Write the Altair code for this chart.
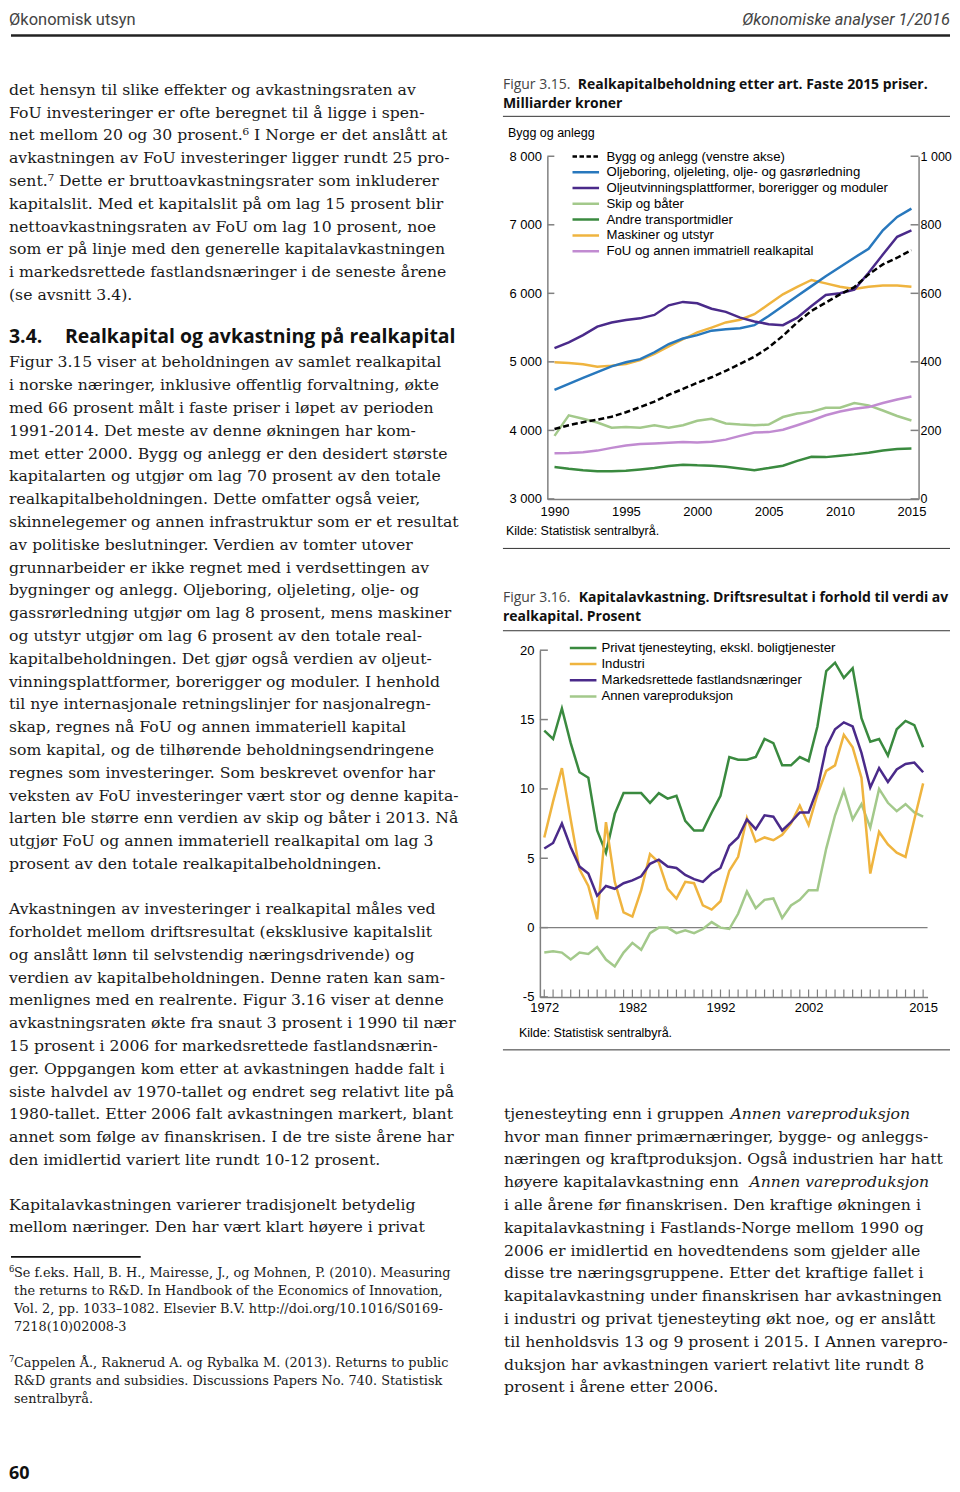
import altair as alt
import pandas as pd

# ---------------- Figure 3.15 data (Milliarder kroner, faste 2015-priser) ----------------
years15 = list(range(1990, 2016))
series15 = [
    "Bygg og anlegg (venstre akse)",
    "Oljeboring, oljeleting, olje- og gasrørledning",
    "Oljeutvinningsplattformer, borerigger og moduler",
    "Skip og båter",
    "Andre transportmidler",
    "Maskiner og utstyr",
    "FoU og annen immatriell realkapital",
]
colors15 = ["#000000", "#2878bd", "#4a2a8a", "#a3c98b", "#3a8a3f", "#efb43f", "#c18bd1"]
bygg = [4020, 4075, 4120, 4155, 4200, 4265, 4340, 4420, 4520, 4605, 4695, 4775, 4870,
        4970, 5075, 5210, 5380, 5575, 5745, 5865, 5985, 6090, 6276, 6422, 6519, 6631]
oljeboring = [318, 336, 353, 370, 387, 399, 408, 428, 452, 468, 478, 491, 495,
              498, 507, 534, 563, 592, 621, 650, 677, 704, 730, 784, 823, 847]
plattform = [440, 457, 478, 503, 515, 522, 527, 537, 565, 575, 571, 555, 546,
             529, 518, 510, 507, 529, 563, 595, 600, 611, 660, 713, 765, 784]
skip = [184, 244, 234, 223, 208, 210, 208, 215, 208, 215, 228, 234, 220,
        217, 215, 217, 239, 249, 254, 266, 266, 280, 273, 258, 242, 229]
andre = [93, 88, 84, 81, 81, 82, 86, 90, 96, 100, 98, 97, 94,
         89, 84, 90, 97, 111, 123, 122, 126, 130, 135, 141, 146, 147]
maskiner = [399, 397, 393, 386, 389, 394, 405, 423, 445, 466, 486, 500, 515,
            523, 539, 568, 597, 619, 639, 629, 619, 613, 619, 623, 623, 619]
fou = [133, 134, 136, 141, 149, 156, 160, 162, 164, 166, 165, 167, 173,
       184, 194, 195, 202, 215, 229, 244, 255, 263, 268, 280, 290, 299]
left_ticks15 = [3000, 4000, 5000, 6000, 7000, 8000]
right_ticks15 = [0, 200, 400, 600, 800, 1000]
xlabels15 = [1990, 1995, 2000, 2005, 2010, 2015]

# ---------------- Figure 3.16 data (Prosent) ----------------
years16 = list(range(1972, 2016))
series16 = [
    "Privat tjenesteyting, ekskl. boligtjenester",
    "Industri",
    "Markedsrettede fastlandsnæringer",
    "Annen vareproduksjon",
]
colors16 = ["#3a8a3f", "#efb43f", "#4a2a8a", "#a3c98b"]
privat = [14.2, 13.6, 15.8, 13.3, 11.2, 10.8, 7.0, 5.4, 8.2, 9.7,
          9.7, 9.7, 9.0, 9.7, 9.3, 9.5, 7.7, 7.0, 7.0, 8.3,
          9.5, 12.3, 12.1, 12.1, 12.3, 13.6, 13.3, 11.7, 11.7, 12.3,
          12.0, 14.5, 18.5, 19.1, 18.0, 18.7, 15.1, 13.4, 13.6, 12.4,
          14.3, 14.9, 14.6, 13.0]
industri = [6.5, 9.1, 11.5, 7.8, 4.2, 3.0, 0.6, 7.6, 3.3, 1.1,
            0.8, 2.7, 5.3, 4.7, 2.8, 2.1, 3.3, 3.2, 1.6, 1.3,
            1.9, 4.1, 5.1, 7.9, 6.2, 6.5, 6.3, 6.7, 7.5, 8.8,
            7.4, 9.6, 11.3, 11.7, 13.9, 13.0, 10.8, 3.9, 6.9, 6.0,
            5.4, 5.1, 7.8, 10.4]
markeds = [5.7, 6.1, 7.5, 5.8, 4.4, 3.9, 2.3, 3.0, 2.8, 3.2,
           3.4, 3.7, 4.6, 4.9, 4.4, 4.3, 3.8, 3.5, 3.3, 3.9,
           4.3, 5.9, 6.5, 7.8, 7.1, 8.1, 8.0, 7.0, 7.6, 8.3,
           8.3, 10.0, 13.0, 14.3, 14.8, 14.5, 12.6, 10.1, 11.5, 10.5,
           11.4, 11.8, 11.9, 11.2]
annen = [-1.8, -1.7, -1.8, -2.3, -1.8, -1.9, -1.4, -2.3, -2.8, -1.8,
         -1.1, -1.6, -0.4, 0.0, 0.0, -0.4, -0.2, -0.4, -0.1, 0.4,
         0.0, -0.1, 1.0, 2.6, 1.4, 2.0, 2.1, 0.7, 1.6, 2.0,
         2.7, 2.7, 5.7, 8.1, 9.9, 7.8, 8.9, 7.2, 10.0, 9.0,
         8.4, 8.9, 8.3, 8.0]
yticks16 = [-5, 0, 5, 10, 15, 20]
xlabels16 = [1972, 1982, 1992, 2002, 2015]

# ---------------- page text ----------------
header_left = "Økonomisk utsyn"
header_right = "Økonomiske analyser 1/2016"
para1 = [
    "det hensyn til slike effekter og avkastningsraten av",
    "FoU investeringer er ofte beregnet til å ligge i spen-",
    "net mellom 20 og 30 prosent.⁶ I Norge er det anslått at",
    "avkastningen av FoU investeringer ligger rundt 25 pro-",
    "sent.⁷ Dette er bruttoavkastningsrater som inkluderer",
    "kapitalslit. Med et kapitalslit på om lag 15 prosent blir",
    "nettoavkastningsraten av FoU om lag 10 prosent, noe",
    "som er på linje med den generelle kapitalavkastningen",
    "i markedsrettede fastlandsnæringer i de seneste årene",
    "(se avsnitt 3.4).",
]
heading_num = "3.4."
heading_txt = "Realkapital og avkastning på realkapital"
para2 = [
    "Figur 3.15 viser at beholdningen av samlet realkapital",
    "i norske næringer, inklusive offentlig forvaltning, økte",
    "med 66 prosent målt i faste priser i løpet av perioden",
    "1991-2014. Det meste av denne økningen har kom-",
    "met etter 2000. Bygg og anlegg er den desidert største",
    "kapitalarten og utgjør om lag 70 prosent av den totale",
    "realkapitalbeholdningen. Dette omfatter også veier,",
    "skinnelegemer og annen infrastruktur som er et resultat",
    "av politiske beslutninger. Verdien av tomter utover",
    "grunnarbeider er ikke regnet med i verdsettingen av",
    "bygninger og anlegg. Oljeboring, oljeleting, olje- og",
    "gassrørledning utgjør om lag 8 prosent, mens maskiner",
    "og utstyr utgjør om lag 6 prosent av den totale real-",
    "kapitalbeholdningen. Det gjør også verdien av oljeut-",
    "vinningsplattformer, borerigger og moduler.  I henhold",
    "til nye internasjonale retningslinjer for nasjonalregn-",
    "skap, regnes nå FoU og annen immateriell kapital",
    "som kapital, og de tilhørende beholdningsendringene",
    "regnes som investeringer. Som beskrevet ovenfor har",
    "veksten av FoU investeringer vært stor og denne kapita-",
    "larten ble større enn verdien av skip og båter i 2013. Nå",
    "utgjør FoU og annen immateriell realkapital om lag 3",
    "prosent av den totale realkapitalbeholdningen.",
]
para3 = [
    "Avkastningen av investeringer i realkapital måles ved",
    "forholdet mellom driftsresultat (eksklusive kapitalslit",
    "og anslått lønn til selvstendig næringsdrivende) og",
    "verdien av kapitalbeholdningen. Denne raten kan sam-",
    "menlignes med en realrente. Figur 3.16 viser at denne",
    "avkastningsraten økte fra snaut 3 prosent i 1990 til nær",
    "15 prosent i 2006 for markedsrettede fastlandsnærin-",
    "ger. Oppgangen kom etter at avkastningen hadde falt i",
    "siste halvdel av 1970-tallet og endret seg relativt lite på",
    "1980-tallet. Etter 2006 falt avkastningen markert, blant",
    "annet som følge av finanskrisen. I de tre siste årene har",
    "den imidlertid variert lite rundt 10-12 prosent.",
]
para4 = [
    "Kapitalavkastningen varierer tradisjonelt betydelig",
    "mellom næringer. Den har vært klart høyere i privat",
]
foot6 = [
    "Se f.eks. Hall, B. H., Mairesse, J., og Mohnen, P. (2010). Measuring",
    "the returns to R&D. In Handbook of the Economics of Innovation,",
    "Vol. 2, pp. 1033–1082. Elsevier B.V. http://doi.org/10.1016/S0169-",
    "7218(10)02008-3",
]
foot7 = [
    "Cappelen Å., Raknerud A. og Rybalka M. (2013). Returns to public",
    "R&D grants and subsidies. Discussions Papers No. 740. Statistisk",
    "sentralbyrå.",
]
page_no = "60"
para5 = [
    "tjenesteyting enn i gruppen",
    "hvor man finner primærnæringer, bygge- og anleggs-",
    "næringen og kraftproduksjon. Også industrien har hatt",
    "høyere kapitalavkastning enn",
    "i alle årene før finanskrisen. Den kraftige økningen i",
    "kapitalavkastning i Fastlands-Norge mellom 1990 og",
    "2006 er imidlertid en hovedtendens som gjelder alle",
    "disse tre næringsgruppene. Etter det kraftige fallet i",
    "kapitalavkastning under finanskrisen har avkastningen",
    "i industri og privat tjenesteyting økt noe, og er anslått",
    "til henholdsvis 13 og 9 prosent i 2015. I Annen varepro-",
    "duksjon har avkastningen variert relativt lite rundt 8",
    "prosent i årene etter 2006.",
]
italic_part = "Annen vareproduksjon"
fig15_lbl = "Figur 3.15."
fig15_title = "Realkapitalbeholdning etter art. Faste 2015 priser."
fig15_title2 = "Milliarder kroner"
fig16_lbl = "Figur 3.16."
fig16_title = "Kapitalavkastning. Driftsresultat i forhold til verdi av"
fig16_title2 = "realkapital. Prosent"
left_axis_title15 = "Bygg og anlegg"
source = "Kilde: Statistisk sentralbyrå."

# ---------------- styling ----------------
SERIF = "DejaVu Serif, serif"
SANS = "Liberation Sans, Arial, sans-serif"
HEAD = "Open Sans, Noto Sans, sans-serif"
TXT = "#1a1a1a"
AX = "#808080"
BODY_FS = 15.7
FOOT_FS = 12.9
LH = 22.85
RIGHT = 943  # right-most chart x that content may reach

one = pd.DataFrame({"k": [0]})


def P(v):
    return v - 8


def text_block(lines, x, y, size=BODY_FS, font=SERIF, weight="normal", style="normal",
               align="left", baseline="alphabetic", lh=LH, color=TXT):
    return alt.Chart(one).mark_text(
        text=lines, font=font, fontSize=size, fontWeight=weight, fontStyle=style,
        align=align, baseline=baseline, lineHeight=lh, color=color
    ).encode(x=alt.value(x), y=alt.value(y))


def hrule(x1, x2, y, w=1.0, color="#333333"):
    return alt.Chart(one).mark_rule(strokeWidth=w, color=color).encode(
        x=alt.value(x1), x2=alt.value(x2), y=alt.value(y))


def legend(names, colors, dashes, x1, x2, xt, y0, step):
    df = pd.DataFrame({"name": names, "i": list(range(len(names)))})
    base = alt.Chart(df).transform_calculate(ly=f"{y0} + datum.i * {step}")
    lines = base.mark_rule(strokeWidth=2.5).encode(
        x=alt.value(x1), x2=alt.value(x2),
        y=alt.Y("ly:Q", scale=None, axis=None),
        color=alt.Color("name:N", scale=alt.Scale(domain=names, range=colors), legend=None),
        strokeDash=alt.StrokeDash("name:N", scale=alt.Scale(domain=names, range=dashes), legend=None),
    )
    labels = base.mark_text(align="left", baseline="middle", font=SANS, fontSize=13.2, color="#000").encode(
        x=alt.value(xt), y=alt.Y("ly:Q", scale=None, axis=None), text="name:N")
    return [lines, labels]


canvas_layers = [
    text_block([header_left], 0, 14, size=16.5, font="Liberation Sans Narrow, Roboto, sans-serif",
               lh=17, color="#444"),
    text_block([header_right], RIGHT, 14, size=16.5, font="Liberation Sans Narrow, Roboto, sans-serif",
               style="italic", align="right", lh=17, color="#444"),
    hrule(2, RIGHT, P(33), w=2.5, color="#222"),
    text_block(para1, 0, P(92.5)),
    text_block([heading_num], 0, P(341), size=19.5, font=HEAD, weight="bold", color="#111", lh=20),
    text_block([heading_txt], P(64), P(341), size=19.5, font=HEAD, weight="bold", color="#111", lh=20),
    text_block(para2, 0, P(365.5)),
    text_block(para3, 0, P(913.5)),
    text_block(para4, 0, P(1209.5)),
    hrule(2, P(140), P(1257), w=1.8, color="#111"),
    text_block(["6"], 0, P(1272), size=8.5, lh=9),
    text_block(foot6, P(13), P(1277.5), size=FOOT_FS, lh=18),
    text_block(["7"], 0, P(1362), size=8.5, lh=9),
    text_block(foot7, P(13), P(1367.5), size=FOOT_FS, lh=18),
    text_block([page_no], 0, P(1480), size=18, font=HEAD, weight="bold", color="#111", lh=18),
    # right column texts
    text_block([fig15_lbl], P(503), P(87), size=14, font=HEAD, color="#444", lh=15),
    text_block([fig15_title], P(578), P(87), size=14, font=HEAD, weight="bold", color="#111", lh=15),
    text_block([fig15_title2], P(503), P(106), size=14, font=HEAD, weight="bold", color="#111", lh=15),
    hrule(P(503), RIGHT, P(114)),
    text_block([left_axis_title15], P(508), P(131), size=12.5, font=SANS, baseline="middle", color="#000", lh=13),
    text_block([source], P(506), P(530), size=12.5, font=SANS, baseline="middle", color="#000", lh=13),
    hrule(P(503), RIGHT, P(547)),
    text_block([fig16_lbl], P(503), P(601), size=14, font=HEAD, color="#444", lh=15),
    text_block([fig16_title], P(579), P(601), size=14, font=HEAD, weight="bold", color="#111", lh=15),
    text_block([fig16_title2], P(503), P(620), size=14, font=HEAD, weight="bold", color="#111", lh=15),
    hrule(P(503), RIGHT, P(629.5)),
    text_block([source], P(519), P(1033), size=12.5, font=SANS, baseline="middle", color="#000", lh=13),
    hrule(P(503), RIGHT, P(1049.5)),
    text_block(para5, P(504), P(1118.5)),
    text_block([italic_part], P(731), P(1118.5), style="italic"),
    text_block([italic_part], P(750), P(1118.5) + 3 * LH, style="italic"),
]
canvas_layers += legend(series15, colors15, [[4.5, 2.5]] + [[1, 0]] * 6,
                        P(572.7), P(599.3), P(606.7), P(154.3), 15.8)
canvas_layers += legend(series16, colors16, [[1, 0]] * 4,
                        P(570), P(596.7), P(601.7), P(646.7), 16.2)

canvas = alt.layer(*canvas_layers).resolve_scale(color="independent", strokeDash="independent").properties(
    width=532, height=1476)

# ---------------- Figure 3.15 chart ----------------
OFF1 = 7.5          # left axis of fig 3.15 sits 7.5 px right of fig 3.16's axis
W1, H1 = OFF1 + 372.0, 343.4
lab_sp = "replace(format(datum.value, ','), ',', ' ')"
common = dict(ticks=False, grid=False, title=None, domainColor=AX, domainWidth=1.5,
              labelFont="Liberation Sans", labelFontSize=13, labelColor="#000", labelFlush=False)
xs1 = alt.Scale(domain=[1989.5, 2015.5], nice=False, zero=False, range=[OFF1, W1])
ysL = alt.Scale(domain=[3000, 8000], nice=False, zero=False)
ysR = alt.Scale(domain=[0, 1000], nice=False, zero=False)
ax_x1 = alt.Axis(values=xlabels15, format="d", labelPadding=7, **common)
ax_l1 = alt.Axis(orient="left", values=left_ticks15, offset=-OFF1, labelExpr=lab_sp, labelPadding=6, **common)
common_r = dict(common, labelFontSize=12.5)
ax_r1 = alt.Axis(orient="right", values=right_ticks15, labelExpr=lab_sp, labelPadding=1.5, **common_r)

vals15 = {
    series15[1]: oljeboring, series15[2]: plattform, series15[3]: skip,
    series15[4]: andre, series15[5]: maskiner, series15[6]: fou,
}
draw_order15 = [series15[3], series15[4], series15[6], series15[5], series15[1], series15[2]]
df_r = pd.DataFrame([
    {"year": y, "value": v, "series": s, "ord": k}
    for k, s in enumerate(draw_order15) for y, v in zip(years15, vals15[s])
])
df_b = pd.DataFrame({"year": years15, "value": bygg})

right_lines = alt.Chart(df_r).mark_line(strokeWidth=2.5).encode(
    x=alt.X("year:Q", scale=xs1, axis=ax_x1),
    y=alt.Y("value:Q", scale=ysR, axis=ax_r1),
    color=alt.Color("series:N", scale=alt.Scale(domain=series15[1:], range=colors15[1:]), legend=None),
    detail="ord:O",
)
right_ticks = alt.Chart(pd.DataFrame({"value": right_ticks15})).mark_rule(color=AX, strokeWidth=1.5).encode(
    y=alt.Y("value:Q", scale=ysR, axis=ax_r1), x=alt.value(W1 - 8), x2=alt.value(W1))
bygg_line = alt.Chart(df_b).mark_line(color="#000", strokeWidth=2.5, strokeDash=[6, 3]).encode(
    x=alt.X("year:Q", scale=xs1, axis=ax_x1),
    y=alt.Y("value:Q", scale=ysL, axis=ax_l1),
)
left_ticks = alt.Chart(pd.DataFrame({"value": left_ticks15})).mark_rule(color=AX, strokeWidth=1.5).encode(
    y=alt.Y("value:Q", scale=ysL, axis=ax_l1), x=alt.value(OFF1), x2=alt.value(OFF1 + 7))

chart1 = alt.layer(
    alt.layer(right_lines, right_ticks),
    alt.layer(bygg_line, left_ticks),
).resolve_scale(y="independent").properties(width=W1, height=H1)

# ---------------- Figure 3.16 chart ----------------
W2, H2 = 388.5, 347.5
xs2 = alt.Scale(domain=[1971.5, 2015.5], nice=False, zero=False)
ys2 = alt.Scale(domain=[-5, 20], nice=False, zero=False)
ax_x2 = alt.Axis(values=xlabels16, format="d", labelPadding=5, **common)
ax_y2 = alt.Axis(orient="left", values=yticks16, labelExpr="'' + datum.value", labelPadding=6, **common)
vals16 = {series16[0]: privat, series16[1]: industri, series16[2]: markeds, series16[3]: annen}
draw_order16 = [series16[3], series16[0], series16[1], series16[2]]
df2 = pd.DataFrame([
    {"year": y, "value": v, "series": s, "ord": k}
    for k, s in enumerate(draw_order16) for y, v in zip(years16, vals16[s])
])
zero_rule = alt.Chart(pd.DataFrame({"value": [0]})).mark_rule(color=AX, strokeWidth=1.2).encode(
    y=alt.Y("value:Q", scale=ys2, axis=ax_y2), x=alt.value(0), x2=alt.value(W2))
lines2 = alt.Chart(df2).mark_line(strokeWidth=2.5).encode(
    x=alt.X("year:Q", scale=xs2, axis=ax_x2),
    y=alt.Y("value:Q", scale=ys2, axis=ax_y2),
    color=alt.Color("series:N", scale=alt.Scale(domain=series16, range=colors16), legend=None),
    detail="ord:O",
)
year_ticks = alt.Chart(pd.DataFrame({"year": years16})).mark_rule(color=AX, strokeWidth=1.2).encode(
    x=alt.X("year:Q", scale=xs2, axis=ax_x2), y=alt.value(H2), y2=alt.value(H2 - 7.5))
left_ticks2 = alt.Chart(pd.DataFrame({"value": yticks16})).mark_rule(color=AX, strokeWidth=1.5).encode(
    y=alt.Y("value:Q", scale=ys2, axis=ax_y2), x=alt.value(0), x2=alt.value(8))

chart2 = alt.layer(zero_rule, lines2, year_ticks, left_ticks2).properties(width=W2, height=H2)


# ---------------- layout ----------------
def spacer(h):
    return alt.Chart(one).mark_point(opacity=0, size=1).encode(
        x=alt.value(0.5), y=alt.value(h / 2)).properties(width=1, height=h)


right_col = alt.vconcat(
    spacer(145.3), chart1, spacer(150.6), chart2, spacer(489.2),
    spacing=0, bounds="flush",
).resolve_scale(color="independent")
chart = alt.hconcat(canvas, right_col, spacing=0, bounds="flush").resolve_scale(
    color="independent", strokeDash="independent"
).properties(
    padding=0, background="white"
).configure_view(stroke="transparent")

chart.save("out.html", embed_options={"renderer": "svg", "actions": False})
